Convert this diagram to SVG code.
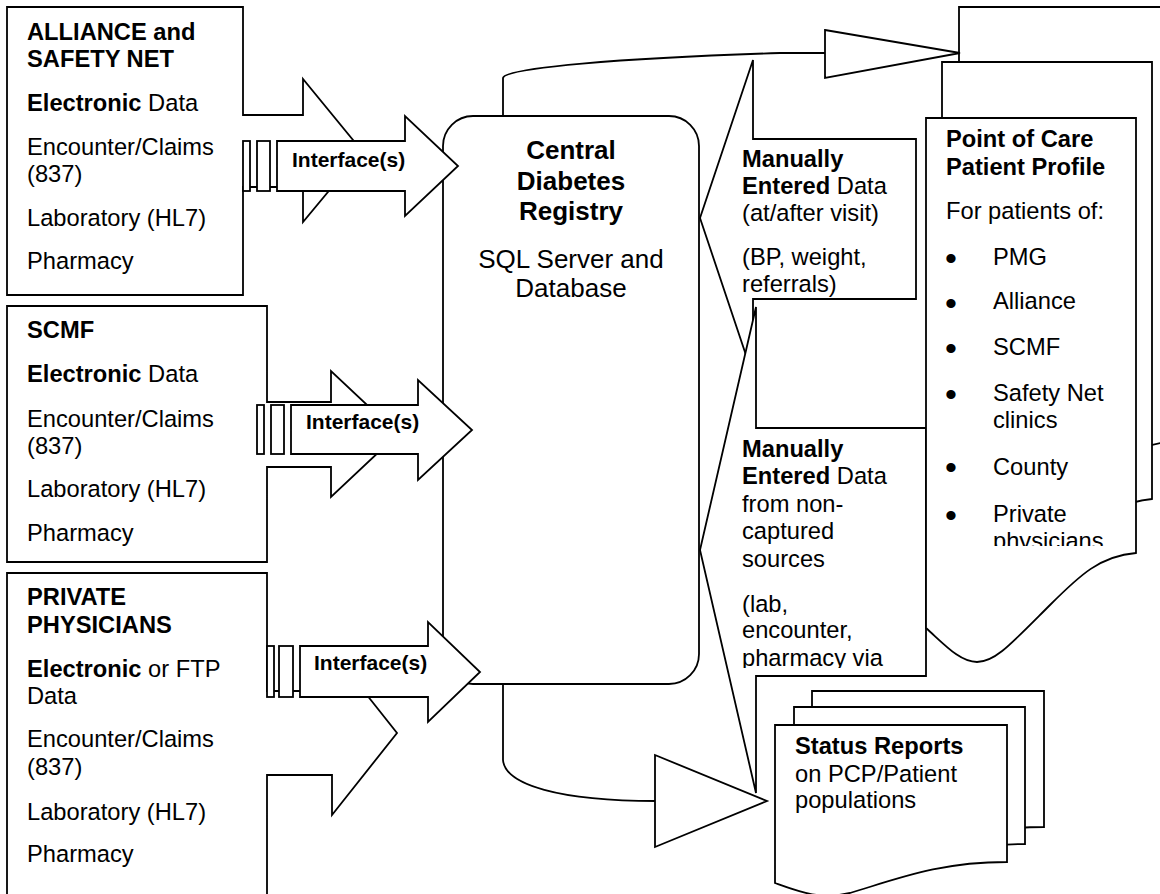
<svg xmlns="http://www.w3.org/2000/svg" width="1160" height="894" viewBox="0 0 1160 894">
<style>
.s{fill:#fff;stroke:#000;stroke-width:1.8;stroke-linejoin:miter}
.ln{fill:none;stroke:#000;stroke-width:1.8}
text{font-family:"Liberation Sans",Arial,sans-serif;font-size:23.7px;fill:#000}
.b{font-weight:bold}
.if{font-size:21px;font-weight:bold}
.reg{font-size:26px;text-anchor:middle}
.bu{font-size:34px}
</style>
<defs>
<clipPath id="clipManual2"><rect x="700" y="300" width="226" height="368"/></clipPath>
<clipPath id="clipPoc"><rect x="926" y="118" width="210" height="428"/></clipPath>
</defs>
<rect width="1160" height="894" fill="#fff"/>

<g id="alliance">
<path class="s" d="M7,7 H243 V115 H303 V79 L362,151 L303,222 V187 H243 V295 H7 Z"/>
<text x="27" y="40" class="b">ALLIANCE and</text>
<text x="27" y="67" class="b">SAFETY NET</text>
<text x="27" y="111"><tspan class="b">Electronic</tspan> Data</text>
<text x="27" y="155">Encounter/Claims</text>
<text x="27" y="182">(837)</text>
<text x="27" y="226">Laboratory (HL7)</text>
<text x="27" y="269">Pharmacy</text>
</g>

<g id="scmf">
<path class="s" d="M7,306 H267 V402 H331 V371 L398,434 L331,497 V467 H267 V562 H7 Z"/>
<text x="27" y="338" class="b">SCMF</text>
<text x="27" y="382"><tspan class="b">Electronic</tspan> Data</text>
<text x="27" y="427">Encounter/Claims</text>
<text x="27" y="454">(837)</text>
<text x="27" y="497">Laboratory (HL7)</text>
<text x="27" y="541">Pharmacy</text>
</g>

<g id="private">
<path class="s" d="M7,573 H267 V691 H332 V651 L397,733 L332,815 V775 H267 V900 H7 Z"/>
<text x="27" y="605" class="b">PRIVATE</text>
<text x="27" y="633" class="b">PHYSICIANS</text>
<text x="27" y="677"><tspan class="b">Electronic</tspan> or FTP</text>
<text x="27" y="704">Data</text>
<text x="27" y="747">Encounter/Claims</text>
<text x="27" y="775">(837)</text>
<text x="27" y="820">Laboratory (HL7)</text>
<text x="27" y="862">Pharmacy</text>
</g>

<g id="registry">
<rect class="s" x="443" y="116" width="256" height="568" rx="30"/>
<text x="571" y="159" class="reg b">Central</text>
<text x="571" y="190" class="reg b">Diabetes</text>
<text x="571" y="220" class="reg b">Registry</text>
<text x="571" y="268" class="reg">SQL Server and</text>
<text x="571" y="297" class="reg">Database</text>
</g>

<g id="interface1">
<rect class="s" x="243" y="141" width="7" height="50"/>
<rect class="s" x="257" y="141" width="13" height="50"/>
<path class="s" d="M277,141 H405 V116 L458,166 L405,216 V191 H277 Z"/>
<text x="292" y="167" class="if">Interface(s)</text>
</g>

<g id="interface2">
<rect class="s" x="257" y="405" width="7" height="49"/>
<rect class="s" x="271" y="405" width="13" height="49"/>
<path class="s" d="M291,405 H418 V380 L472,430 L418,480 V454 H291 Z"/>
<text x="306" y="429" class="if">Interface(s)</text>
</g>

<g id="interface3">
<rect class="s" x="267" y="646" width="7" height="51"/>
<rect class="s" x="279" y="646" width="14" height="51"/>
<path class="s" d="M300,646 H428 V622 L480,672 L428,722 V697 H300 Z"/>
<text x="314" y="670" class="if">Interface(s)</text>
</g>

<g id="manual-visit">
<path class="s" d="M753,60 L700,218 L753,376 V299 H916 V139 H753 Z"/>
<text x="742" y="167" class="b">Manually</text>
<text x="742" y="194"><tspan class="b">Entered</tspan> Data</text>
<text x="742" y="221">(at/after visit)</text>
<text x="742" y="265">(BP, weight,</text>
<text x="742" y="292">referrals)</text>
</g>

<g id="manual-noncaptured">
<path class="s" d="M756,307 L700,550 L756,793 V676 H926 V428 H756 Z"/>
<g clip-path="url(#clipManual2)">
<text x="742" y="457" class="b">Manually</text>
<text x="742" y="484"><tspan class="b">Entered</tspan> Data</text>
<text x="742" y="512">from non-</text>
<text x="742" y="539">captured</text>
<text x="742" y="567">sources</text>
<text x="742" y="612">(lab,</text>
<text x="742" y="638">encounter,</text>
<text x="742" y="666">pharmacy via</text>
</g>
</g>

<g id="point-of-care">
<path class="s" d="M959,7 H1169 V442 C1133,445 1113,464 1083,494 C1043,534 1028,551 1010,551 C993,551 978,534 959,517 Z"/>
<path class="s" d="M942,62 H1152 V499 C1116,502 1096,521 1066,551 C1026,591 1011,608 993,608 C976,608 961,591 942,574 Z"/>
<path class="s" d="M926,118 H1136 V553 C1100,556 1080,575 1050,605 C1010,645 995,662 977,662 C960,662 945,645 926,628 Z"/>
<text x="946" y="147" class="b">Point of Care</text>
<text x="946" y="175" class="b">Patient Profile</text>
<text x="946" y="219">For patients of:</text>
<g clip-path="url(#clipPoc)">
<text x="945" y="269.5" class="bu">•</text><text x="993" y="265">PMG</text>
<text x="945" y="314.5" class="bu">•</text><text x="993" y="309">Alliance</text>
<text x="945" y="359.5" class="bu">•</text><text x="993" y="355">SCMF</text>
<text x="945" y="405.5" class="bu">•</text><text x="993" y="401">Safety Net</text>
<text x="993" y="428">clinics</text>
<text x="945" y="479" class="bu">•</text><text x="993" y="475">County</text>
<text x="945" y="526.5" class="bu">•</text><text x="993" y="522">Private</text>
<text x="993" y="549">physicians</text>
</g>
</g>

<g id="status-reports">
<path class="s" d="M812,691 H1044 V827 C977,827 937,843 887,858 C857,865 837,857 812,848 Z"/>
<path class="s" d="M794,707 H1025 V844 C958,844 918,860 868,875 C838,882 818,874 794,865 Z"/>
<path class="s" d="M775,725 H1007 V862 C940,862 900,878 850,893 C820,900 800,892 775,883 Z"/>
<text x="795" y="754" class="b">Status Reports</text>
<text x="795" y="782">on PCP/Patient</text>
<text x="795" y="808">populations</text>
</g>

<g id="connectors">
<path class="ln" d="M503,116 V78 C505,68 620,58 780,53 H826"/>
<path class="s" d="M825,30 L960,53 L825,78 Z"/>
<path class="ln" d="M503,684 V760 C505,785 560,801 656,801"/>
<path class="s" d="M655,755 L767,801 L655,847 Z"/>
</g>
</svg>
